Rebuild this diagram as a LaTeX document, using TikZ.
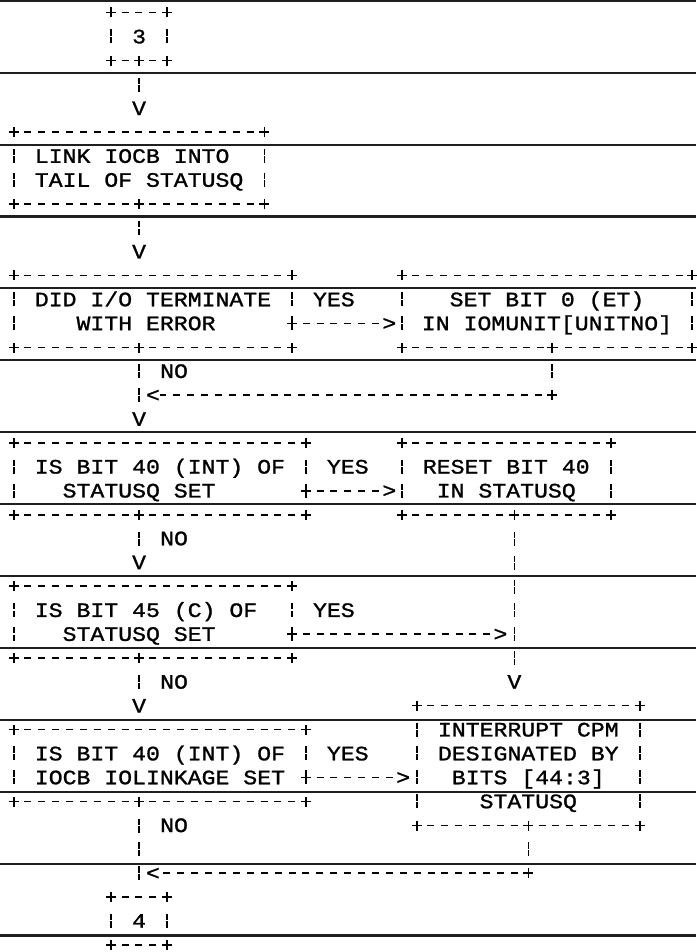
\documentclass[tikz,border=0pt]{standalone}
\usepackage{fontspec}
\newfontfamily\asc[FakeStretch=1.13,FakeBold=1.2]{Liberation Mono}
\newcommand\ascf{\asc\fontsize{20.5}{23.9}\selectfont}
\newcommand\rs{\rule[-5.2pt]{0pt}{23.9pt}}
\newcommand\bord[1]{%
  \draw[hd] (#1.north west) -- (#1.north east);
  \draw[hd] (#1.south west) -- (#1.south east);
  \draw[vd, shorten <=11.95pt, shorten >=11.95pt] (#1.north west) -- (#1.south west);
  \draw[vd, shorten <=11.95pt, shorten >=11.95pt] (#1.north east) -- (#1.south east);
  \pic at (#1.north west) {plusm};
  \pic at (#1.north east) {plusm};
  \pic at (#1.south west) {plusm};
  \pic at (#1.south east) {plusm};
}
\tikzset{
  ruled/.style={line width=2.1pt, black!88},
  abox/.style={rectangle, inner sep=0pt, draw=none, align=left, font=\ascf},
  hd/.style={line width=1.6pt, dash pattern=on 7pt off 6.9pt, dash phase=3.5pt},
  vd/.style={line width=1.6pt, dash pattern=on 6.4pt off 1.2pt on 6.4pt off 9.9pt, dash phase=18.95pt},
  glyph/.style={inner sep=0pt, font=\ascf, text height=13.5pt, text depth=0pt},
  lbl/.style={glyph, anchor=west},
  plusm/.pic={\draw[line width=1.6pt] (-5pt,0pt) -- (5pt,0pt) (0pt,-5pt) -- (0pt,5pt);}
}
\begin{document}
\begin{tikzpicture}
\useasboundingbox (0pt,0pt) rectangle (696pt,-952pt);
\foreach \k in {0,...,13}{\draw[ruled] (0pt,{-71.9pt*\k-0.8pt}) -- (696pt,{-71.9pt*\k-0.8pt});}
\begin{scope}[x=13.9pt,y=-23.9pt,shift={(14pt,-12.7pt)}]
% ---------- boxes ----------
\node[abox, minimum width=55.6pt, minimum height=47.8pt] (b3) at (9,1) {\rs 3};
\node[abox, minimum width=250.2pt, minimum height=71.7pt] (link) at (9,6.5)
  {\rs LINK IOCB INTO\\\rs TAIL OF STATUSQ};
\node[abox, minimum width=278pt, minimum height=71.7pt] (did) at (10,12.5)
  {\rs DID I/O TERMINATE\\\rs\hphantom{XXX}WITH ERROR};
\node[abox, minimum width=290pt, minimum height=71.7pt] (setb) at (38.345,12.5)
  {\rs\hphantom{XX}SET BIT 0 (ET)\\\rs IN IOMUNIT[UNITNO]};
\node[abox, minimum width=291.9pt, minimum height=71.7pt] (is40) at (10.5,19.5)
  {\rs IS BIT 40 (INT) OF\\\rs\hphantom{XX}STATUSQ SET};
\node[abox, minimum width=208.5pt, minimum height=71.7pt] (reset) at (35.414,19.5)
  {\rs RESET BIT 40\\\rs\hphantom{X}IN STATUSQ};
\node[abox, minimum width=278pt, minimum height=71.7pt] (is45) at (10,25.5)
  {\rs IS BIT 45 (C) OF\hphantom{X}\\\rs\hphantom{XX}STATUSQ SET};
\node[abox, minimum width=291.9pt, minimum height=71.7pt] (iocb) at (10.5,31.5)
  {\rs IS BIT 40 (INT) OF\\\rs IOCB IOLINKAGE SET};
\node[abox, minimum width=222.4pt, minimum height=119.5pt] (intr) at (37,31.5)
  {\rs INTERRUPT CPM\\\rs DESIGNATED BY\\\rs\hphantom{X}BITS [44:3]\\\rs\hphantom{XXX}STATUSQ};
\node[abox, minimum width=55.6pt, minimum height=47.8pt] (b4) at (9,38) {\rs 4};
\bord{b3}\bord{link}\bord{did}\bord{setb}\bord{is40}\bord{reset}
\bord{is45}\bord{iocb}\bord{intr}\bord{b4}
% ---------- arrow glyphs ----------
\node[glyph] (v1) at (9,4) {V};
\node[glyph] (v2) at (9,10) {V};
\node[glyph] (v3) at (9,17) {V};
\node[glyph] (v4) at (9,23) {V};
\node[glyph] (v5) at (36,28) {V};
\node[glyph] (v6) at (9,29) {V};
\node[glyph] (g1) at (27,13) {>};
\node[glyph] (g2) at (27,20) {>};
\node[glyph] (g3) at (35,26) {>};
\node[glyph] (g4) at (28,32) {>};
\node[glyph] (l1) at (10,16) {<};
\node[glyph] (l2) at (10,36) {<};
% ---------- labels ----------
\node[lbl] (yes1) at (21.5,12) {YES};
\node[lbl] (yes2) at (22.5,19) {YES};
\node[lbl] (yes3) at (21.5,25) {YES};
\node[lbl] (yes4) at (22.5,31) {YES};
\node[lbl] (no1) at (10.5,15) {NO};
\node[lbl] (no2) at (10.5,22) {NO};
\node[lbl] (no3) at (10.5,28) {NO};
\node[lbl] (no4) at (10.5,34) {NO};
% ---------- connectors ----------
\coordinate (c1) at (38.705,16);
\coordinate (c2) at (37,36);
\draw[vd, shorten <=11.95pt] (b3.south) -- (v1.north);
\draw[vd, shorten <=11.95pt] (link.south) -- (v2.north);
\draw[vd, shorten <=11.95pt] (did.south -| v3) -- (v3.north);
\draw[hd] (did.east |- g1) -- (g1.west);
\draw[vd, shorten <=11.95pt, shorten >=11.95pt] (setb.south -| c1) -- (c1);
\draw[hd] (c1) -- (l1.east);
\draw[vd, shorten <=11.95pt] (is40.south -| v4) -- (v4.north);
\draw[hd] (is40.east |- g2) -- (g2.west);
\draw[vd, shorten <=11.95pt] (reset.south -| v5) -- (v5.north);
\draw[hd] (is45.east |- g3) -- (g3.west);
\draw[vd, shorten <=11.95pt] (is45.south -| v6) -- (v6.north);
\draw[hd] (iocb.east |- g4) -- (g4.west);
\draw[vd, shorten <=11.95pt, shorten >=11.95pt] (iocb.south -| b4) -- (b4.north);
\draw[vd, shorten <=11.95pt, shorten >=11.95pt] (intr.south -| c2) -- (c2);
\draw[hd] (c2) -- (l2.east);
% junction marks
\pic at (b3.south) {plusm};
\pic at (link.south) {plusm};
\pic at (did.south -| v3) {plusm};
\pic at (did.east |- g1) {plusm};
\pic at (setb.south -| c1) {plusm};
\pic at (c1) {plusm};
\pic at (is40.south -| v4) {plusm};
\pic at (is40.east |- g2) {plusm};
\pic at (reset.south -| v5) {plusm};
\pic at (is45.east |- g3) {plusm};
\pic at (is45.south -| v6) {plusm};
\pic at (iocb.east |- g4) {plusm};
\pic at (iocb.south -| b4) {plusm};
\pic at (intr.south -| c2) {plusm};
\pic at (c2) {plusm};
\end{scope}
\end{tikzpicture}
\end{document}
